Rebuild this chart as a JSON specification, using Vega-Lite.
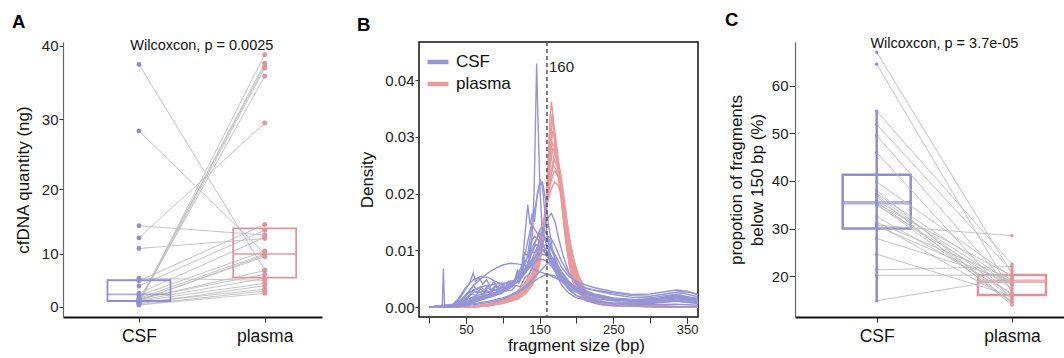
{
"$schema": "https://vega.github.io/schema/vega-lite/v6.json",
"padding": {"left": 12, "top": 11, "right": 0, "bottom": 0},
"background": "white",
"bounds": "flush",
"spacing": 97,
"config": {
  "font": "Liberation Sans",
  "view": {"stroke": null},
  "axis": {"grid": false, "labelFont": "Liberation Sans", "titleFont": "Liberation Sans", "labelColor": "#222", "titleColor": "#111", "titleFontWeight": "normal", "tickColor": "#333", "domainColor": "#333"}
},
"resolve": {"scale": {"color": "independent", "x": "independent", "y": "independent"}, "legend": {"color": "independent"}},
"datasets": {
  "pairsA": [
    {"id":1,"g":"CSF","v":37.5},{"id":1,"g":"plasma","v":7.3},
    {"id":2,"g":"CSF","v":28.4},{"id":2,"g":"plasma","v":10.1},
    {"id":3,"g":"CSF","v":14.5},{"id":3,"g":"plasma","v":13.05},
    {"id":4,"g":"CSF","v":12.6},{"id":4,"g":"plasma","v":29.5},
    {"id":5,"g":"CSF","v":10.9},{"id":5,"g":"plasma","v":12.5},
    {"id":6,"g":"CSF","v":1.0},{"id":6,"g":"plasma","v":38.8},
    {"id":7,"g":"CSF","v":1.2},{"id":7,"g":"plasma","v":37.65},
    {"id":8,"g":"CSF","v":1.5},{"id":8,"g":"plasma","v":37.3},
    {"id":9,"g":"CSF","v":0.93},{"id":9,"g":"plasma","v":37.0},
    {"id":10,"g":"CSF","v":1.3},{"id":10,"g":"plasma","v":35.9},
    {"id":11,"g":"CSF","v":5.85},{"id":11,"g":"plasma","v":5.5},
    {"id":12,"g":"CSF","v":5.4},{"id":12,"g":"plasma","v":14.7},
    {"id":13,"g":"CSF","v":4.45},{"id":13,"g":"plasma","v":13.8},
    {"id":14,"g":"CSF","v":3.05},{"id":14,"g":"plasma","v":12.7},
    {"id":15,"g":"CSF","v":2.57},{"id":15,"g":"plasma","v":10.5},
    {"id":16,"g":"CSF","v":2.03},{"id":16,"g":"plasma","v":10.0},
    {"id":17,"g":"CSF","v":1.52},{"id":17,"g":"plasma","v":9.8},
    {"id":18,"g":"CSF","v":1.7},{"id":18,"g":"plasma","v":9.55},
    {"id":19,"g":"CSF","v":1.8},{"id":19,"g":"plasma","v":7.2},
    {"id":20,"g":"CSF","v":2.0},{"id":20,"g":"plasma","v":6.56},
    {"id":21,"g":"CSF","v":1.6},{"id":21,"g":"plasma","v":5.85},
    {"id":22,"g":"CSF","v":1.4},{"id":22,"g":"plasma","v":4.95},
    {"id":23,"g":"CSF","v":0.8},{"id":23,"g":"plasma","v":4.5},
    {"id":24,"g":"CSF","v":1.1},{"id":24,"g":"plasma","v":3.83},
    {"id":25,"g":"CSF","v":0.6},{"id":25,"g":"plasma","v":3.5},
    {"id":26,"g":"CSF","v":0.51},{"id":26,"g":"plasma","v":3.05}
  ],
  "boxA": [
    {"g":"CSF","q1":1.45,"med":2.85,"q3":5.5},
    {"g":"plasma","q1":5.96,"med":10.0,"q3":14.1}
  ],
  "pairsC": [
    {"id":1,"g":"CSF","v":67.1},{"id":1,"g":"plasma","v":20.5},
    {"id":2,"g":"CSF","v":64.6},{"id":2,"g":"plasma","v":16.5},
    {"id":3,"g":"CSF","v":54.7},{"id":3,"g":"plasma","v":22.5},
    {"id":4,"g":"CSF","v":51.9},{"id":4,"g":"plasma","v":21.0},
    {"id":5,"g":"CSF","v":49.6},{"id":5,"g":"plasma","v":17.0},
    {"id":6,"g":"CSF","v":46.0},{"id":6,"g":"plasma","v":15.0},
    {"id":7,"g":"CSF","v":39.8},{"id":7,"g":"plasma","v":19.8},
    {"id":8,"g":"CSF","v":38.0},{"id":8,"g":"plasma","v":14.2},
    {"id":9,"g":"CSF","v":37.3},{"id":9,"g":"plasma","v":18.5},
    {"id":10,"g":"CSF","v":37.0},{"id":10,"g":"plasma","v":16.0},
    {"id":11,"g":"CSF","v":36.7},{"id":11,"g":"plasma","v":13.9},
    {"id":12,"g":"CSF","v":36.0},{"id":12,"g":"plasma","v":18.0},
    {"id":13,"g":"CSF","v":35.5},{"id":13,"g":"plasma","v":15.5},
    {"id":14,"g":"CSF","v":35.3},{"id":14,"g":"plasma","v":20.0},
    {"id":15,"g":"CSF","v":35.2},{"id":15,"g":"plasma","v":14.5},
    {"id":16,"g":"CSF","v":34.9},{"id":16,"g":"plasma","v":17.5},
    {"id":17,"g":"CSF","v":32.5},{"id":17,"g":"plasma","v":16.3},
    {"id":18,"g":"CSF","v":31.3},{"id":18,"g":"plasma","v":19.3},
    {"id":19,"g":"CSF","v":31.0},{"id":19,"g":"plasma","v":14.8},
    {"id":20,"g":"CSF","v":30.7},{"id":20,"g":"plasma","v":28.5},
    {"id":21,"g":"CSF","v":30.5},{"id":21,"g":"plasma","v":18.3},
    {"id":22,"g":"CSF","v":27.9},{"id":22,"g":"plasma","v":19.0},
    {"id":23,"g":"CSF","v":24.6},{"id":23,"g":"plasma","v":15.8},
    {"id":24,"g":"CSF","v":21.3},{"id":24,"g":"plasma","v":22.0},
    {"id":25,"g":"CSF","v":20.15},{"id":25,"g":"plasma","v":20.2},
    {"id":26,"g":"CSF","v":14.8},{"id":26,"g":"plasma","v":19.5}
  ],
  "boxC": [
    {"g":"CSF","lo":14.8,"q1":30.0,"med":35.4,"q3":41.3,"hi":54.7},
    {"g":"plasma","lo":13.9,"q1":16.0,"med":18.9,"q3":20.2,"hi":22.5}
  ],
  "csf": [
    {"s":"c1","t":"CSF","x":0,"y":0},{"s":"c1","t":"CSF","x":30,"y":0},{"s":"c1","t":"CSF","x":40,"y":0.0004},{"s":"c1","t":"CSF","x":50,"y":0.0012},{"s":"c1","t":"CSF","x":60,"y":0.0018},{"s":"c1","t":"CSF","x":70,"y":0.0022},{"s":"c1","t":"CSF","x":80,"y":0.0026},{"s":"c1","t":"CSF","x":90,"y":0.003},{"s":"c1","t":"CSF","x":100,"y":0.0034},{"s":"c1","t":"CSF","x":110,"y":0.004},{"s":"c1","t":"CSF","x":120,"y":0.0052},{"s":"c1","t":"CSF","x":130,"y":0.0075},{"s":"c1","t":"CSF","x":136,"y":0.0098},{"s":"c1","t":"CSF","x":140,"y":0.0125},{"s":"c1","t":"CSF","x":142.5,"y":0.02},{"s":"c1","t":"CSF","x":146,"y":0.0429},{"s":"c1","t":"CSF","x":148,"y":0.032},{"s":"c1","t":"CSF","x":150.5,"y":0.021},{"s":"c1","t":"CSF","x":153,"y":0.0145},{"s":"c1","t":"CSF","x":158,"y":0.0115},{"s":"c1","t":"CSF","x":165,"y":0.009},{"s":"c1","t":"CSF","x":175,"y":0.0065},{"s":"c1","t":"CSF","x":185,"y":0.0045},{"s":"c1","t":"CSF","x":200,"y":0.003},{"s":"c1","t":"CSF","x":225,"y":0.0018},{"s":"c1","t":"CSF","x":250,"y":0.0012},{"s":"c1","t":"CSF","x":280,"y":0.001},{"s":"c1","t":"CSF","x":310,"y":0.0012},{"s":"c1","t":"CSF","x":335,"y":0.0015},{"s":"c1","t":"CSF","x":365,"y":0.001},
    {"s":"c2","t":"CSF","x":0,"y":0},{"s":"c2","t":"CSF","x":18,"y":0},{"s":"c2","t":"CSF","x":19.5,"y":0.0068},{"s":"c2","t":"CSF","x":21,"y":0.0004},{"s":"c2","t":"CSF","x":24,"y":0},{"s":"c2","t":"CSF","x":30,"y":0.0001},{"s":"c2","t":"CSF","x":40,"y":0.0008},{"s":"c2","t":"CSF","x":50,"y":0.0022},{"s":"c2","t":"CSF","x":60,"y":0.0037},{"s":"c2","t":"CSF","x":70,"y":0.005},{"s":"c2","t":"CSF","x":80,"y":0.006},{"s":"c2","t":"CSF","x":90,"y":0.0068},{"s":"c2","t":"CSF","x":100,"y":0.0074},{"s":"c2","t":"CSF","x":110,"y":0.0077},{"s":"c2","t":"CSF","x":120,"y":0.0076},{"s":"c2","t":"CSF","x":130,"y":0.0073},{"s":"c2","t":"CSF","x":140,"y":0.0068},{"s":"c2","t":"CSF","x":150,"y":0.0062},{"s":"c2","t":"CSF","x":160,"y":0.0058},{"s":"c2","t":"CSF","x":170,"y":0.0052},{"s":"c2","t":"CSF","x":180,"y":0.0045},{"s":"c2","t":"CSF","x":190,"y":0.004},{"s":"c2","t":"CSF","x":200,"y":0.0036},{"s":"c2","t":"CSF","x":225,"y":0.003},{"s":"c2","t":"CSF","x":250,"y":0.0025},{"s":"c2","t":"CSF","x":275,"y":0.002},{"s":"c2","t":"CSF","x":300,"y":0.0019},{"s":"c2","t":"CSF","x":320,"y":0.0023},{"s":"c2","t":"CSF","x":340,"y":0.0027},{"s":"c2","t":"CSF","x":355,"y":0.0026},{"s":"c2","t":"CSF","x":365,"y":0.0022},
    {"s":"c3","t":"CSF","x":0,"y":0},{"s":"c3","t":"CSF","x":30,"y":0},{"s":"c3","t":"CSF","x":40,"y":0.0012},{"s":"c3","t":"CSF","x":50,"y":0.0032},{"s":"c3","t":"CSF","x":55,"y":0.0042},{"s":"c3","t":"CSF","x":60,"y":0.006},{"s":"c3","t":"CSF","x":63,"y":0.0045},{"s":"c3","t":"CSF","x":68,"y":0.0052},{"s":"c3","t":"CSF","x":73,"y":0.004},{"s":"c3","t":"CSF","x":78,"y":0.0048},{"s":"c3","t":"CSF","x":83,"y":0.0037},{"s":"c3","t":"CSF","x":88,"y":0.0044},{"s":"c3","t":"CSF","x":93,"y":0.0034},{"s":"c3","t":"CSF","x":98,"y":0.0042},{"s":"c3","t":"CSF","x":103,"y":0.0033},{"s":"c3","t":"CSF","x":108,"y":0.0045},{"s":"c3","t":"CSF","x":113,"y":0.0036},{"s":"c3","t":"CSF","x":118,"y":0.0055},{"s":"c3","t":"CSF","x":123,"y":0.0048},{"s":"c3","t":"CSF","x":128,"y":0.0078},{"s":"c3","t":"CSF","x":133,"y":0.0068},{"s":"c3","t":"CSF","x":138,"y":0.01},{"s":"c3","t":"CSF","x":143,"y":0.0095},{"s":"c3","t":"CSF","x":150,"y":0.0105},{"s":"c3","t":"CSF","x":158,"y":0.0095},{"s":"c3","t":"CSF","x":165,"y":0.008},{"s":"c3","t":"CSF","x":175,"y":0.006},{"s":"c3","t":"CSF","x":185,"y":0.0045},{"s":"c3","t":"CSF","x":200,"y":0.0032},{"s":"c3","t":"CSF","x":225,"y":0.0022},{"s":"c3","t":"CSF","x":250,"y":0.0015},{"s":"c3","t":"CSF","x":280,"y":0.0012},{"s":"c3","t":"CSF","x":310,"y":0.0014},{"s":"c3","t":"CSF","x":335,"y":0.002},{"s":"c3","t":"CSF","x":365,"y":0.0014},
    {"s":"c4","t":"CSF","x":0,"y":0},{"s":"c4","t":"CSF","x":30,"y":0.0002},{"s":"c4","t":"CSF","x":40,"y":0.0015},{"s":"c4","t":"CSF","x":50,"y":0.0035},{"s":"c4","t":"CSF","x":60,"y":0.0048},{"s":"c4","t":"CSF","x":70,"y":0.0054},{"s":"c4","t":"CSF","x":80,"y":0.0052},{"s":"c4","t":"CSF","x":90,"y":0.0045},{"s":"c4","t":"CSF","x":100,"y":0.004},{"s":"c4","t":"CSF","x":110,"y":0.0042},{"s":"c4","t":"CSF","x":120,"y":0.005},{"s":"c4","t":"CSF","x":130,"y":0.0065},{"s":"c4","t":"CSF","x":140,"y":0.0085},{"s":"c4","t":"CSF","x":150,"y":0.0095},{"s":"c4","t":"CSF","x":160,"y":0.009},{"s":"c4","t":"CSF","x":170,"y":0.0075},{"s":"c4","t":"CSF","x":180,"y":0.0055},{"s":"c4","t":"CSF","x":190,"y":0.004},{"s":"c4","t":"CSF","x":200,"y":0.003},{"s":"c4","t":"CSF","x":225,"y":0.002},{"s":"c4","t":"CSF","x":250,"y":0.0013},{"s":"c4","t":"CSF","x":280,"y":0.001},{"s":"c4","t":"CSF","x":310,"y":0.0012},{"s":"c4","t":"CSF","x":335,"y":0.0016},{"s":"c4","t":"CSF","x":365,"y":0.0012},
    {"s":"c5","t":"CSF","x":0,"y":0},{"s":"c5","t":"CSF","x":40,"y":0.0002},{"s":"c5","t":"CSF","x":50,"y":0.0006},{"s":"c5","t":"CSF","x":60,"y":0.001},{"s":"c5","t":"CSF","x":70,"y":0.0014},{"s":"c5","t":"CSF","x":80,"y":0.0018},{"s":"c5","t":"CSF","x":90,"y":0.0024},{"s":"c5","t":"CSF","x":100,"y":0.003},{"s":"c5","t":"CSF","x":105,"y":0.0028},{"s":"c5","t":"CSF","x":110,"y":0.0042},{"s":"c5","t":"CSF","x":115,"y":0.0038},{"s":"c5","t":"CSF","x":120,"y":0.0065},{"s":"c5","t":"CSF","x":125,"y":0.0058},{"s":"c5","t":"CSF","x":130,"y":0.0125},{"s":"c5","t":"CSF","x":134,"y":0.018},{"s":"c5","t":"CSF","x":137,"y":0.0145},{"s":"c5","t":"CSF","x":140,"y":0.0165},{"s":"c5","t":"CSF","x":143,"y":0.015},{"s":"c5","t":"CSF","x":147,"y":0.02},{"s":"c5","t":"CSF","x":151,"y":0.0225},{"s":"c5","t":"CSF","x":154,"y":0.021},{"s":"c5","t":"CSF","x":157,"y":0.017},{"s":"c5","t":"CSF","x":160,"y":0.013},{"s":"c5","t":"CSF","x":165,"y":0.009},{"s":"c5","t":"CSF","x":170,"y":0.0065},{"s":"c5","t":"CSF","x":180,"y":0.0038},{"s":"c5","t":"CSF","x":190,"y":0.0024},{"s":"c5","t":"CSF","x":200,"y":0.0016},{"s":"c5","t":"CSF","x":225,"y":0.0009},{"s":"c5","t":"CSF","x":250,"y":0.0006},{"s":"c5","t":"CSF","x":300,"y":0.0006},{"s":"c5","t":"CSF","x":335,"y":0.001},{"s":"c5","t":"CSF","x":365,"y":0.0006},
    {"s":"c6","t":"CSF","x":0,"y":0},{"s":"c6","t":"CSF","x":40,"y":0.0001},{"s":"c6","t":"CSF","x":50,"y":0.0004},{"s":"c6","t":"CSF","x":60,"y":0.0008},{"s":"c6","t":"CSF","x":70,"y":0.0012},{"s":"c6","t":"CSF","x":80,"y":0.0016},{"s":"c6","t":"CSF","x":90,"y":0.002},{"s":"c6","t":"CSF","x":100,"y":0.0026},{"s":"c6","t":"CSF","x":110,"y":0.0036},{"s":"c6","t":"CSF","x":120,"y":0.0055},{"s":"c6","t":"CSF","x":128,"y":0.008},{"s":"c6","t":"CSF","x":133,"y":0.011},{"s":"c6","t":"CSF","x":138,"y":0.014},{"s":"c6","t":"CSF","x":142,"y":0.016},{"s":"c6","t":"CSF","x":146,"y":0.019},{"s":"c6","t":"CSF","x":150,"y":0.0215},{"s":"c6","t":"CSF","x":154,"y":0.022},{"s":"c6","t":"CSF","x":158,"y":0.019},{"s":"c6","t":"CSF","x":162,"y":0.0145},{"s":"c6","t":"CSF","x":167,"y":0.0105},{"s":"c6","t":"CSF","x":172,"y":0.0075},{"s":"c6","t":"CSF","x":180,"y":0.0048},{"s":"c6","t":"CSF","x":190,"y":0.003},{"s":"c6","t":"CSF","x":200,"y":0.002},{"s":"c6","t":"CSF","x":225,"y":0.0011},{"s":"c6","t":"CSF","x":250,"y":0.0007},{"s":"c6","t":"CSF","x":300,"y":0.0007},{"s":"c6","t":"CSF","x":335,"y":0.0011},{"s":"c6","t":"CSF","x":365,"y":0.0007},
    {"s":"c7","t":"CSF","x":0,"y":0},{"s":"c7","t":"CSF","x":40,"y":0.0003},{"s":"c7","t":"CSF","x":50,"y":0.0008},{"s":"c7","t":"CSF","x":60,"y":0.0012},{"s":"c7","t":"CSF","x":70,"y":0.0016},{"s":"c7","t":"CSF","x":80,"y":0.002},{"s":"c7","t":"CSF","x":90,"y":0.0025},{"s":"c7","t":"CSF","x":100,"y":0.003},{"s":"c7","t":"CSF","x":110,"y":0.0036},{"s":"c7","t":"CSF","x":120,"y":0.0045},{"s":"c7","t":"CSF","x":130,"y":0.006},{"s":"c7","t":"CSF","x":140,"y":0.0085},{"s":"c7","t":"CSF","x":148,"y":0.011},{"s":"c7","t":"CSF","x":155,"y":0.0135},{"s":"c7","t":"CSF","x":160,"y":0.0155},{"s":"c7","t":"CSF","x":166,"y":0.0165},{"s":"c7","t":"CSF","x":171,"y":0.015},{"s":"c7","t":"CSF","x":176,"y":0.012},{"s":"c7","t":"CSF","x":182,"y":0.009},{"s":"c7","t":"CSF","x":190,"y":0.006},{"s":"c7","t":"CSF","x":200,"y":0.004},{"s":"c7","t":"CSF","x":210,"y":0.003},{"s":"c7","t":"CSF","x":225,"y":0.002},{"s":"c7","t":"CSF","x":250,"y":0.0013},{"s":"c7","t":"CSF","x":280,"y":0.001},{"s":"c7","t":"CSF","x":310,"y":0.0011},{"s":"c7","t":"CSF","x":335,"y":0.0015},{"s":"c7","t":"CSF","x":365,"y":0.001},
    {"s":"c8","t":"CSF","x":0,"y":0},{"s":"c8","t":"CSF","x":40,"y":0.0005},{"s":"c8","t":"CSF","x":50,"y":0.0016},{"s":"c8","t":"CSF","x":55,"y":0.0022},{"s":"c8","t":"CSF","x":60,"y":0.003},{"s":"c8","t":"CSF","x":65,"y":0.0025},{"s":"c8","t":"CSF","x":70,"y":0.0032},{"s":"c8","t":"CSF","x":75,"y":0.0026},{"s":"c8","t":"CSF","x":80,"y":0.0034},{"s":"c8","t":"CSF","x":85,"y":0.0028},{"s":"c8","t":"CSF","x":90,"y":0.0036},{"s":"c8","t":"CSF","x":95,"y":0.003},{"s":"c8","t":"CSF","x":100,"y":0.0038},{"s":"c8","t":"CSF","x":105,"y":0.0033},{"s":"c8","t":"CSF","x":110,"y":0.0044},{"s":"c8","t":"CSF","x":115,"y":0.004},{"s":"c8","t":"CSF","x":120,"y":0.0058},{"s":"c8","t":"CSF","x":125,"y":0.0052},{"s":"c8","t":"CSF","x":130,"y":0.0082},{"s":"c8","t":"CSF","x":135,"y":0.0078},{"s":"c8","t":"CSF","x":140,"y":0.0105},{"s":"c8","t":"CSF","x":145,"y":0.0118},{"s":"c8","t":"CSF","x":150,"y":0.013},{"s":"c8","t":"CSF","x":155,"y":0.0125},{"s":"c8","t":"CSF","x":160,"y":0.0118},{"s":"c8","t":"CSF","x":168,"y":0.0095},{"s":"c8","t":"CSF","x":175,"y":0.0072},{"s":"c8","t":"CSF","x":185,"y":0.005},{"s":"c8","t":"CSF","x":200,"y":0.0033},{"s":"c8","t":"CSF","x":225,"y":0.0023},{"s":"c8","t":"CSF","x":250,"y":0.0016},{"s":"c8","t":"CSF","x":280,"y":0.0013},{"s":"c8","t":"CSF","x":310,"y":0.0015},{"s":"c8","t":"CSF","x":335,"y":0.0022},{"s":"c8","t":"CSF","x":365,"y":0.0015},
    {"s":"c9","t":"CSF","x":0,"y":0},{"s":"c9","t":"CSF","x":40,"y":0.0002},{"s":"c9","t":"CSF","x":50,"y":0.0008},{"s":"c9","t":"CSF","x":60,"y":0.0013},{"s":"c9","t":"CSF","x":70,"y":0.0017},{"s":"c9","t":"CSF","x":80,"y":0.0021},{"s":"c9","t":"CSF","x":90,"y":0.0025},{"s":"c9","t":"CSF","x":100,"y":0.003},{"s":"c9","t":"CSF","x":110,"y":0.0036},{"s":"c9","t":"CSF","x":120,"y":0.0046},{"s":"c9","t":"CSF","x":130,"y":0.0062},{"s":"c9","t":"CSF","x":140,"y":0.0082},{"s":"c9","t":"CSF","x":150,"y":0.0102},{"s":"c9","t":"CSF","x":158,"y":0.011},{"s":"c9","t":"CSF","x":165,"y":0.0105},{"s":"c9","t":"CSF","x":172,"y":0.009},{"s":"c9","t":"CSF","x":180,"y":0.007},{"s":"c9","t":"CSF","x":190,"y":0.0054},{"s":"c9","t":"CSF","x":200,"y":0.0045},{"s":"c9","t":"CSF","x":210,"y":0.004},{"s":"c9","t":"CSF","x":225,"y":0.0034},{"s":"c9","t":"CSF","x":250,"y":0.0027},{"s":"c9","t":"CSF","x":275,"y":0.0022},{"s":"c9","t":"CSF","x":300,"y":0.0023},{"s":"c9","t":"CSF","x":320,"y":0.0027},{"s":"c9","t":"CSF","x":336,"y":0.003},{"s":"c9","t":"CSF","x":350,"y":0.0028},{"s":"c9","t":"CSF","x":365,"y":0.0021},
    {"s":"c10","t":"CSF","x":0,"y":0},{"s":"c10","t":"CSF","x":40,"y":0.0001},{"s":"c10","t":"CSF","x":60,"y":0.0004},{"s":"c10","t":"CSF","x":80,"y":0.0008},{"s":"c10","t":"CSF","x":100,"y":0.0014},{"s":"c10","t":"CSF","x":120,"y":0.0025},{"s":"c10","t":"CSF","x":135,"y":0.0038},{"s":"c10","t":"CSF","x":150,"y":0.0052},{"s":"c10","t":"CSF","x":160,"y":0.0058},{"s":"c10","t":"CSF","x":170,"y":0.0055},{"s":"c10","t":"CSF","x":180,"y":0.0045},{"s":"c10","t":"CSF","x":190,"y":0.0032},{"s":"c10","t":"CSF","x":200,"y":0.002},{"s":"c10","t":"CSF","x":215,"y":0.001},{"s":"c10","t":"CSF","x":235,"y":0.0004},{"s":"c10","t":"CSF","x":260,"y":0.0002},{"s":"c10","t":"CSF","x":300,"y":0.0001},{"s":"c10","t":"CSF","x":365,"y":0.0001},
    {"s":"c11","t":"CSF","x":0,"y":0},{"s":"c11","t":"CSF","x":40,"y":0.0002},{"s":"c11","t":"CSF","x":60,"y":0.0006},{"s":"c11","t":"CSF","x":80,"y":0.001},{"s":"c11","t":"CSF","x":100,"y":0.0016},{"s":"c11","t":"CSF","x":120,"y":0.0026},{"s":"c11","t":"CSF","x":135,"y":0.0042},{"s":"c11","t":"CSF","x":150,"y":0.0062},{"s":"c11","t":"CSF","x":160,"y":0.0076},{"s":"c11","t":"CSF","x":166,"y":0.008},{"s":"c11","t":"CSF","x":172,"y":0.0075},{"s":"c11","t":"CSF","x":180,"y":0.0062},{"s":"c11","t":"CSF","x":190,"y":0.0045},{"s":"c11","t":"CSF","x":200,"y":0.003},{"s":"c11","t":"CSF","x":215,"y":0.0016},{"s":"c11","t":"CSF","x":235,"y":0.0008},{"s":"c11","t":"CSF","x":260,"y":0.0005},{"s":"c11","t":"CSF","x":300,"y":0.0004},{"s":"c11","t":"CSF","x":335,"y":0.0005},{"s":"c11","t":"CSF","x":365,"y":0.0003},
    {"s":"c12","t":"CSF","x":0,"y":0},{"s":"c12","t":"CSF","x":40,"y":0.0006},{"s":"c12","t":"CSF","x":50,"y":0.002},{"s":"c12","t":"CSF","x":55,"y":0.0028},{"s":"c12","t":"CSF","x":60,"y":0.0038},{"s":"c12","t":"CSF","x":65,"y":0.003},{"s":"c12","t":"CSF","x":70,"y":0.0036},{"s":"c12","t":"CSF","x":75,"y":0.003},{"s":"c12","t":"CSF","x":80,"y":0.0038},{"s":"c12","t":"CSF","x":85,"y":0.0031},{"s":"c12","t":"CSF","x":90,"y":0.0038},{"s":"c12","t":"CSF","x":95,"y":0.0032},{"s":"c12","t":"CSF","x":100,"y":0.004},{"s":"c12","t":"CSF","x":105,"y":0.0034},{"s":"c12","t":"CSF","x":110,"y":0.0046},{"s":"c12","t":"CSF","x":115,"y":0.004},{"s":"c12","t":"CSF","x":120,"y":0.0062},{"s":"c12","t":"CSF","x":125,"y":0.0058},{"s":"c12","t":"CSF","x":130,"y":0.0095},{"s":"c12","t":"CSF","x":135,"y":0.0088},{"s":"c12","t":"CSF","x":140,"y":0.0118},{"s":"c12","t":"CSF","x":143,"y":0.0125},{"s":"c12","t":"CSF","x":147,"y":0.012},{"s":"c12","t":"CSF","x":152,"y":0.0112},{"s":"c12","t":"CSF","x":160,"y":0.0098},{"s":"c12","t":"CSF","x":170,"y":0.0075},{"s":"c12","t":"CSF","x":180,"y":0.0052},{"s":"c12","t":"CSF","x":190,"y":0.0038},{"s":"c12","t":"CSF","x":200,"y":0.0029},{"s":"c12","t":"CSF","x":225,"y":0.002},{"s":"c12","t":"CSF","x":250,"y":0.0014},{"s":"c12","t":"CSF","x":280,"y":0.0012},{"s":"c12","t":"CSF","x":310,"y":0.0014},{"s":"c12","t":"CSF","x":335,"y":0.0019},{"s":"c12","t":"CSF","x":365,"y":0.0013},
    {"s":"c13","t":"CSF","x":0,"y":0},{"s":"c13","t":"CSF","x":35,"y":0.0001},{"s":"c13","t":"CSF","x":45,"y":0.0006},{"s":"c13","t":"CSF","x":55,"y":0.0012},{"s":"c13","t":"CSF","x":62,"y":0.0018},{"s":"c13","t":"CSF","x":68,"y":0.0016},{"s":"c13","t":"CSF","x":75,"y":0.0021},{"s":"c13","t":"CSF","x":82,"y":0.0019},{"s":"c13","t":"CSF","x":90,"y":0.0025},{"s":"c13","t":"CSF","x":97,"y":0.0023},{"s":"c13","t":"CSF","x":105,"y":0.003},{"s":"c13","t":"CSF","x":112,"y":0.0029},{"s":"c13","t":"CSF","x":118,"y":0.0038},{"s":"c13","t":"CSF","x":124,"y":0.0036},{"s":"c13","t":"CSF","x":130,"y":0.0052},{"s":"c13","t":"CSF","x":136,"y":0.0058},{"s":"c13","t":"CSF","x":142,"y":0.0075},{"s":"c13","t":"CSF","x":148,"y":0.009},{"s":"c13","t":"CSF","x":155,"y":0.0101},{"s":"c13","t":"CSF","x":162,"y":0.0097},{"s":"c13","t":"CSF","x":170,"y":0.0082},{"s":"c13","t":"CSF","x":178,"y":0.0062},{"s":"c13","t":"CSF","x":188,"y":0.0044},{"s":"c13","t":"CSF","x":200,"y":0.003},{"s":"c13","t":"CSF","x":225,"y":0.0019},{"s":"c13","t":"CSF","x":250,"y":0.0013},{"s":"c13","t":"CSF","x":280,"y":0.001},{"s":"c13","t":"CSF","x":310,"y":0.0011},{"s":"c13","t":"CSF","x":340,"y":0.0016},{"s":"c13","t":"CSF","x":365,"y":0.0011},
    {"s":"c14","t":"CSF","x":0,"y":0},{"s":"c14","t":"CSF","x":35,"y":0.0002},{"s":"c14","t":"CSF","x":45,"y":0.001},{"s":"c14","t":"CSF","x":55,"y":0.002},{"s":"c14","t":"CSF","x":62,"y":0.0028},{"s":"c14","t":"CSF","x":68,"y":0.0025},{"s":"c14","t":"CSF","x":75,"y":0.0029},{"s":"c14","t":"CSF","x":82,"y":0.0027},{"s":"c14","t":"CSF","x":90,"y":0.0031},{"s":"c14","t":"CSF","x":97,"y":0.0029},{"s":"c14","t":"CSF","x":105,"y":0.0034},{"s":"c14","t":"CSF","x":112,"y":0.0035},{"s":"c14","t":"CSF","x":118,"y":0.0045},{"s":"c14","t":"CSF","x":124,"y":0.0047},{"s":"c14","t":"CSF","x":130,"y":0.0068},{"s":"c14","t":"CSF","x":136,"y":0.0082},{"s":"c14","t":"CSF","x":142,"y":0.0105},{"s":"c14","t":"CSF","x":148,"y":0.0128},{"s":"c14","t":"CSF","x":152,"y":0.014},{"s":"c14","t":"CSF","x":157,"y":0.0135},{"s":"c14","t":"CSF","x":163,"y":0.0118},{"s":"c14","t":"CSF","x":170,"y":0.009},{"s":"c14","t":"CSF","x":178,"y":0.0064},{"s":"c14","t":"CSF","x":188,"y":0.0043},{"s":"c14","t":"CSF","x":200,"y":0.0029},{"s":"c14","t":"CSF","x":225,"y":0.0019},{"s":"c14","t":"CSF","x":250,"y":0.0014},{"s":"c14","t":"CSF","x":280,"y":0.0011},{"s":"c14","t":"CSF","x":310,"y":0.0013},{"s":"c14","t":"CSF","x":338,"y":0.0019},{"s":"c14","t":"CSF","x":365,"y":0.0012},
    {"s":"c15","t":"CSF","x":0,"y":0},{"s":"c15","t":"CSF","x":40,"y":0.0003},{"s":"c15","t":"CSF","x":50,"y":0.0009},{"s":"c15","t":"CSF","x":60,"y":0.0015},{"s":"c15","t":"CSF","x":70,"y":0.0019},{"s":"c15","t":"CSF","x":80,"y":0.0022},{"s":"c15","t":"CSF","x":90,"y":0.0026},{"s":"c15","t":"CSF","x":100,"y":0.003},{"s":"c15","t":"CSF","x":110,"y":0.0035},{"s":"c15","t":"CSF","x":120,"y":0.0044},{"s":"c15","t":"CSF","x":130,"y":0.0058},{"s":"c15","t":"CSF","x":140,"y":0.0078},{"s":"c15","t":"CSF","x":150,"y":0.0102},{"s":"c15","t":"CSF","x":156,"y":0.0118},{"s":"c15","t":"CSF","x":160,"y":0.0125},{"s":"c15","t":"CSF","x":165,"y":0.0122},{"s":"c15","t":"CSF","x":172,"y":0.0105},{"s":"c15","t":"CSF","x":180,"y":0.008},{"s":"c15","t":"CSF","x":190,"y":0.0058},{"s":"c15","t":"CSF","x":200,"y":0.0042},{"s":"c15","t":"CSF","x":210,"y":0.0035},{"s":"c15","t":"CSF","x":225,"y":0.0029},{"s":"c15","t":"CSF","x":250,"y":0.0022},{"s":"c15","t":"CSF","x":275,"y":0.0017},{"s":"c15","t":"CSF","x":300,"y":0.0016},{"s":"c15","t":"CSF","x":325,"y":0.0021},{"s":"c15","t":"CSF","x":345,"y":0.0024},{"s":"c15","t":"CSF","x":365,"y":0.0018},
    {"s":"c16","t":"CSF","x":0,"y":0},{"s":"c16","t":"CSF","x":40,"y":0.0004},{"s":"c16","t":"CSF","x":50,"y":0.0013},{"s":"c16","t":"CSF","x":58,"y":0.0024},{"s":"c16","t":"CSF","x":63,"y":0.002},{"s":"c16","t":"CSF","x":68,"y":0.0027},{"s":"c16","t":"CSF","x":73,"y":0.0022},{"s":"c16","t":"CSF","x":78,"y":0.003},{"s":"c16","t":"CSF","x":83,"y":0.0024},{"s":"c16","t":"CSF","x":88,"y":0.0033},{"s":"c16","t":"CSF","x":93,"y":0.0027},{"s":"c16","t":"CSF","x":98,"y":0.0036},{"s":"c16","t":"CSF","x":103,"y":0.0031},{"s":"c16","t":"CSF","x":108,"y":0.0041},{"s":"c16","t":"CSF","x":113,"y":0.0037},{"s":"c16","t":"CSF","x":118,"y":0.0052},{"s":"c16","t":"CSF","x":123,"y":0.0049},{"s":"c16","t":"CSF","x":128,"y":0.0075},{"s":"c16","t":"CSF","x":133,"y":0.0085},{"s":"c16","t":"CSF","x":137,"y":0.012},{"s":"c16","t":"CSF","x":140,"y":0.0145},{"s":"c16","t":"CSF","x":144,"y":0.0135},{"s":"c16","t":"CSF","x":148,"y":0.0128},{"s":"c16","t":"CSF","x":153,"y":0.0115},{"s":"c16","t":"CSF","x":160,"y":0.0095},{"s":"c16","t":"CSF","x":168,"y":0.0072},{"s":"c16","t":"CSF","x":176,"y":0.0052},{"s":"c16","t":"CSF","x":186,"y":0.0037},{"s":"c16","t":"CSF","x":200,"y":0.0027},{"s":"c16","t":"CSF","x":225,"y":0.0019},{"s":"c16","t":"CSF","x":250,"y":0.0013},{"s":"c16","t":"CSF","x":280,"y":0.001},{"s":"c16","t":"CSF","x":310,"y":0.0012},{"s":"c16","t":"CSF","x":340,"y":0.0017},{"s":"c16","t":"CSF","x":365,"y":0.0011},
    {"s":"c17","t":"CSF","x":0,"y":0},{"s":"c17","t":"CSF","x":35,"y":0.0003},{"s":"c17","t":"CSF","x":45,"y":0.0014},{"s":"c17","t":"CSF","x":55,"y":0.0026},{"s":"c17","t":"CSF","x":65,"y":0.0033},{"s":"c17","t":"CSF","x":75,"y":0.0037},{"s":"c17","t":"CSF","x":85,"y":0.0039},{"s":"c17","t":"CSF","x":95,"y":0.0041},{"s":"c17","t":"CSF","x":105,"y":0.0043},{"s":"c17","t":"CSF","x":115,"y":0.0047},{"s":"c17","t":"CSF","x":125,"y":0.0055},{"s":"c17","t":"CSF","x":135,"y":0.0068},{"s":"c17","t":"CSF","x":145,"y":0.0081},{"s":"c17","t":"CSF","x":150,"y":0.0085},{"s":"c17","t":"CSF","x":158,"y":0.0082},{"s":"c17","t":"CSF","x":166,"y":0.0072},{"s":"c17","t":"CSF","x":175,"y":0.0057},{"s":"c17","t":"CSF","x":185,"y":0.0043},{"s":"c17","t":"CSF","x":200,"y":0.003},{"s":"c17","t":"CSF","x":225,"y":0.002},{"s":"c17","t":"CSF","x":250,"y":0.0015},{"s":"c17","t":"CSF","x":280,"y":0.0012},{"s":"c17","t":"CSF","x":310,"y":0.0013},{"s":"c17","t":"CSF","x":335,"y":0.0018},{"s":"c17","t":"CSF","x":365,"y":0.0012},
    {"s":"c18","t":"CSF","x":0,"y":0},{"s":"c18","t":"CSF","x":40,"y":0.0002},{"s":"c18","t":"CSF","x":50,"y":0.0007},{"s":"c18","t":"CSF","x":60,"y":0.0011},{"s":"c18","t":"CSF","x":70,"y":0.0014},{"s":"c18","t":"CSF","x":80,"y":0.0018},{"s":"c18","t":"CSF","x":90,"y":0.0022},{"s":"c18","t":"CSF","x":100,"y":0.0027},{"s":"c18","t":"CSF","x":110,"y":0.0033},{"s":"c18","t":"CSF","x":118,"y":0.0045},{"s":"c18","t":"CSF","x":122,"y":0.0042},{"s":"c18","t":"CSF","x":128,"y":0.0064},{"s":"c18","t":"CSF","x":133,"y":0.0072},{"s":"c18","t":"CSF","x":138,"y":0.0092},{"s":"c18","t":"CSF","x":145,"y":0.011},{"s":"c18","t":"CSF","x":150,"y":0.0106},{"s":"c18","t":"CSF","x":156,"y":0.0098},{"s":"c18","t":"CSF","x":163,"y":0.0083},{"s":"c18","t":"CSF","x":172,"y":0.0062},{"s":"c18","t":"CSF","x":182,"y":0.0043},{"s":"c18","t":"CSF","x":195,"y":0.0029},{"s":"c18","t":"CSF","x":210,"y":0.002},{"s":"c18","t":"CSF","x":230,"y":0.0014},{"s":"c18","t":"CSF","x":260,"y":0.0009},{"s":"c18","t":"CSF","x":300,"y":0.0008},{"s":"c18","t":"CSF","x":335,"y":0.0012},{"s":"c18","t":"CSF","x":365,"y":0.0008}
  ],
  "plasma": [
    {"s":"p1","t":"plasma","x":0,"y":0},{"s":"p1","t":"plasma","x":60,"y":0},{"s":"p1","t":"plasma","x":80,"y":0.0002},{"s":"p1","t":"plasma","x":100,"y":0.0006},{"s":"p1","t":"plasma","x":120,"y":0.0014},{"s":"p1","t":"plasma","x":130,"y":0.0022},{"s":"p1","t":"plasma","x":140,"y":0.0038},{"s":"p1","t":"plasma","x":145,"y":0.0052},{"s":"p1","t":"plasma","x":150,"y":0.0075},{"s":"p1","t":"plasma","x":155,"y":0.0115},{"s":"p1","t":"plasma","x":158,"y":0.016},{"s":"p1","t":"plasma","x":161,"y":0.024},{"s":"p1","t":"plasma","x":164,"y":0.033},{"s":"p1","t":"plasma","x":166,"y":0.0362},{"s":"p1","t":"plasma","x":168,"y":0.034},{"s":"p1","t":"plasma","x":171,"y":0.0285},{"s":"p1","t":"plasma","x":175,"y":0.024},{"s":"p1","t":"plasma","x":180,"y":0.018},{"s":"p1","t":"plasma","x":185,"y":0.012},{"s":"p1","t":"plasma","x":190,"y":0.0075},{"s":"p1","t":"plasma","x":195,"y":0.0045},{"s":"p1","t":"plasma","x":200,"y":0.003},{"s":"p1","t":"plasma","x":210,"y":0.0015},{"s":"p1","t":"plasma","x":225,"y":0.0007},{"s":"p1","t":"plasma","x":250,"y":0.0002},{"s":"p1","t":"plasma","x":300,"y":0.0001},{"s":"p1","t":"plasma","x":365,"y":0},
    {"s":"p2","t":"plasma","x":0,"y":0},{"s":"p2","t":"plasma","x":60,"y":0},{"s":"p2","t":"plasma","x":80,"y":0.0002},{"s":"p2","t":"plasma","x":100,"y":0.0007},{"s":"p2","t":"plasma","x":120,"y":0.0016},{"s":"p2","t":"plasma","x":130,"y":0.0025},{"s":"p2","t":"plasma","x":140,"y":0.0042},{"s":"p2","t":"plasma","x":145,"y":0.0058},{"s":"p2","t":"plasma","x":150,"y":0.0082},{"s":"p2","t":"plasma","x":155,"y":0.012},{"s":"p2","t":"plasma","x":159,"y":0.0175},{"s":"p2","t":"plasma","x":162,"y":0.025},{"s":"p2","t":"plasma","x":165,"y":0.031},{"s":"p2","t":"plasma","x":167,"y":0.034},{"s":"p2","t":"plasma","x":170,"y":0.031},{"s":"p2","t":"plasma","x":173,"y":0.027},{"s":"p2","t":"plasma","x":177,"y":0.0225},{"s":"p2","t":"plasma","x":182,"y":0.016},{"s":"p2","t":"plasma","x":187,"y":0.0105},{"s":"p2","t":"plasma","x":192,"y":0.0068},{"s":"p2","t":"plasma","x":198,"y":0.0042},{"s":"p2","t":"plasma","x":205,"y":0.0025},{"s":"p2","t":"plasma","x":215,"y":0.0012},{"s":"p2","t":"plasma","x":230,"y":0.0005},{"s":"p2","t":"plasma","x":260,"y":0.0002},{"s":"p2","t":"plasma","x":365,"y":0},
    {"s":"p3","t":"plasma","x":0,"y":0},{"s":"p3","t":"plasma","x":60,"y":0},{"s":"p3","t":"plasma","x":80,"y":0.0003},{"s":"p3","t":"plasma","x":100,"y":0.0008},{"s":"p3","t":"plasma","x":120,"y":0.0018},{"s":"p3","t":"plasma","x":130,"y":0.0028},{"s":"p3","t":"plasma","x":140,"y":0.0046},{"s":"p3","t":"plasma","x":145,"y":0.0062},{"s":"p3","t":"plasma","x":150,"y":0.0088},{"s":"p3","t":"plasma","x":155,"y":0.0128},{"s":"p3","t":"plasma","x":159,"y":0.018},{"s":"p3","t":"plasma","x":163,"y":0.025},{"s":"p3","t":"plasma","x":166,"y":0.029},{"s":"p3","t":"plasma","x":168,"y":0.031},{"s":"p3","t":"plasma","x":171,"y":0.029},{"s":"p3","t":"plasma","x":175,"y":0.0255},{"s":"p3","t":"plasma","x":180,"y":0.02},{"s":"p3","t":"plasma","x":185,"y":0.0138},{"s":"p3","t":"plasma","x":190,"y":0.009},{"s":"p3","t":"plasma","x":196,"y":0.0055},{"s":"p3","t":"plasma","x":203,"y":0.0032},{"s":"p3","t":"plasma","x":212,"y":0.0016},{"s":"p3","t":"plasma","x":228,"y":0.0007},{"s":"p3","t":"plasma","x":255,"y":0.0002},{"s":"p3","t":"plasma","x":365,"y":0},
    {"s":"p4","t":"plasma","x":0,"y":0},{"s":"p4","t":"plasma","x":60,"y":0.0001},{"s":"p4","t":"plasma","x":80,"y":0.0003},{"s":"p4","t":"plasma","x":100,"y":0.0009},{"s":"p4","t":"plasma","x":120,"y":0.002},{"s":"p4","t":"plasma","x":130,"y":0.003},{"s":"p4","t":"plasma","x":140,"y":0.005},{"s":"p4","t":"plasma","x":145,"y":0.0068},{"s":"p4","t":"plasma","x":150,"y":0.0095},{"s":"p4","t":"plasma","x":155,"y":0.0135},{"s":"p4","t":"plasma","x":160,"y":0.019},{"s":"p4","t":"plasma","x":164,"y":0.0245},{"s":"p4","t":"plasma","x":168,"y":0.028},{"s":"p4","t":"plasma","x":172,"y":0.0265},{"s":"p4","t":"plasma","x":176,"y":0.0235},{"s":"p4","t":"plasma","x":181,"y":0.019},{"s":"p4","t":"plasma","x":186,"y":0.0135},{"s":"p4","t":"plasma","x":191,"y":0.009},{"s":"p4","t":"plasma","x":197,"y":0.0058},{"s":"p4","t":"plasma","x":204,"y":0.0035},{"s":"p4","t":"plasma","x":213,"y":0.0018},{"s":"p4","t":"plasma","x":230,"y":0.0007},{"s":"p4","t":"plasma","x":255,"y":0.0002},{"s":"p4","t":"plasma","x":365,"y":0},
    {"s":"p5","t":"plasma","x":0,"y":0},{"s":"p5","t":"plasma","x":60,"y":0.0001},{"s":"p5","t":"plasma","x":80,"y":0.0004},{"s":"p5","t":"plasma","x":100,"y":0.001},{"s":"p5","t":"plasma","x":120,"y":0.0022},{"s":"p5","t":"plasma","x":130,"y":0.0034},{"s":"p5","t":"plasma","x":140,"y":0.0055},{"s":"p5","t":"plasma","x":145,"y":0.0074},{"s":"p5","t":"plasma","x":150,"y":0.0102},{"s":"p5","t":"plasma","x":155,"y":0.014},{"s":"p5","t":"plasma","x":160,"y":0.0185},{"s":"p5","t":"plasma","x":165,"y":0.023},{"s":"p5","t":"plasma","x":170,"y":0.026},{"s":"p5","t":"plasma","x":174,"y":0.0248},{"s":"p5","t":"plasma","x":178,"y":0.0228},{"s":"p5","t":"plasma","x":183,"y":0.0185},{"s":"p5","t":"plasma","x":188,"y":0.0135},{"s":"p5","t":"plasma","x":193,"y":0.0092},{"s":"p5","t":"plasma","x":199,"y":0.006},{"s":"p5","t":"plasma","x":206,"y":0.0036},{"s":"p5","t":"plasma","x":215,"y":0.0019},{"s":"p5","t":"plasma","x":232,"y":0.0008},{"s":"p5","t":"plasma","x":260,"y":0.0002},{"s":"p5","t":"plasma","x":365,"y":0},
    {"s":"p6","t":"plasma","x":0,"y":0},{"s":"p6","t":"plasma","x":60,"y":0.0001},{"s":"p6","t":"plasma","x":80,"y":0.0004},{"s":"p6","t":"plasma","x":100,"y":0.0011},{"s":"p6","t":"plasma","x":120,"y":0.0025},{"s":"p6","t":"plasma","x":130,"y":0.0038},{"s":"p6","t":"plasma","x":140,"y":0.006},{"s":"p6","t":"plasma","x":145,"y":0.008},{"s":"p6","t":"plasma","x":150,"y":0.011},{"s":"p6","t":"plasma","x":155,"y":0.0145},{"s":"p6","t":"plasma","x":160,"y":0.0185},{"s":"p6","t":"plasma","x":165,"y":0.022},{"s":"p6","t":"plasma","x":170,"y":0.024},{"s":"p6","t":"plasma","x":175,"y":0.0232},{"s":"p6","t":"plasma","x":180,"y":0.021},{"s":"p6","t":"plasma","x":185,"y":0.017},{"s":"p6","t":"plasma","x":190,"y":0.0125},{"s":"p6","t":"plasma","x":196,"y":0.0085},{"s":"p6","t":"plasma","x":202,"y":0.0055},{"s":"p6","t":"plasma","x":210,"y":0.0032},{"s":"p6","t":"plasma","x":220,"y":0.0017},{"s":"p6","t":"plasma","x":240,"y":0.0006},{"s":"p6","t":"plasma","x":270,"y":0.0002},{"s":"p6","t":"plasma","x":365,"y":0},
    {"s":"p7","t":"plasma","x":0,"y":0},{"s":"p7","t":"plasma","x":60,"y":0.0001},{"s":"p7","t":"plasma","x":80,"y":0.0005},{"s":"p7","t":"plasma","x":100,"y":0.0013},{"s":"p7","t":"plasma","x":120,"y":0.0028},{"s":"p7","t":"plasma","x":130,"y":0.0042},{"s":"p7","t":"plasma","x":140,"y":0.0068},{"s":"p7","t":"plasma","x":145,"y":0.0092},{"s":"p7","t":"plasma","x":150,"y":0.012},{"s":"p7","t":"plasma","x":155,"y":0.0153},{"s":"p7","t":"plasma","x":160,"y":0.018},{"s":"p7","t":"plasma","x":165,"y":0.0205},{"s":"p7","t":"plasma","x":170,"y":0.022},{"s":"p7","t":"plasma","x":175,"y":0.0215},{"s":"p7","t":"plasma","x":180,"y":0.0195},{"s":"p7","t":"plasma","x":185,"y":0.016},{"s":"p7","t":"plasma","x":190,"y":0.0122},{"s":"p7","t":"plasma","x":196,"y":0.0085},{"s":"p7","t":"plasma","x":203,"y":0.0055},{"s":"p7","t":"plasma","x":212,"y":0.0031},{"s":"p7","t":"plasma","x":225,"y":0.0015},{"s":"p7","t":"plasma","x":245,"y":0.0006},{"s":"p7","t":"plasma","x":275,"y":0.0002},{"s":"p7","t":"plasma","x":365,"y":0},
    {"s":"p8","t":"plasma","x":0,"y":0},{"s":"p8","t":"plasma","x":60,"y":0},{"s":"p8","t":"plasma","x":80,"y":0.0002},{"s":"p8","t":"plasma","x":100,"y":0.0007},{"s":"p8","t":"plasma","x":120,"y":0.0017},{"s":"p8","t":"plasma","x":130,"y":0.0026},{"s":"p8","t":"plasma","x":140,"y":0.0044},{"s":"p8","t":"plasma","x":145,"y":0.006},{"s":"p8","t":"plasma","x":150,"y":0.0085},{"s":"p8","t":"plasma","x":155,"y":0.0125},{"s":"p8","t":"plasma","x":159,"y":0.0175},{"s":"p8","t":"plasma","x":163,"y":0.025},{"s":"p8","t":"plasma","x":166,"y":0.031},{"s":"p8","t":"plasma","x":168,"y":0.033},{"s":"p8","t":"plasma","x":171,"y":0.0305},{"s":"p8","t":"plasma","x":175,"y":0.0265},{"s":"p8","t":"plasma","x":180,"y":0.0205},{"s":"p8","t":"plasma","x":185,"y":0.014},{"s":"p8","t":"plasma","x":190,"y":0.0092},{"s":"p8","t":"plasma","x":196,"y":0.0056},{"s":"p8","t":"plasma","x":203,"y":0.0032},{"s":"p8","t":"plasma","x":212,"y":0.0016},{"s":"p8","t":"plasma","x":228,"y":0.0006},{"s":"p8","t":"plasma","x":255,"y":0.0002},{"s":"p8","t":"plasma","x":365,"y":0},
    {"s":"p9","t":"plasma","x":0,"y":0},{"s":"p9","t":"plasma","x":60,"y":0.0001},{"s":"p9","t":"plasma","x":80,"y":0.0003},{"s":"p9","t":"plasma","x":100,"y":0.0008},{"s":"p9","t":"plasma","x":120,"y":0.0019},{"s":"p9","t":"plasma","x":130,"y":0.0029},{"s":"p9","t":"plasma","x":140,"y":0.0048},{"s":"p9","t":"plasma","x":145,"y":0.0066},{"s":"p9","t":"plasma","x":150,"y":0.0092},{"s":"p9","t":"plasma","x":155,"y":0.013},{"s":"p9","t":"plasma","x":159,"y":0.0178},{"s":"p9","t":"plasma","x":163,"y":0.0238},{"s":"p9","t":"plasma","x":167,"y":0.029},{"s":"p9","t":"plasma","x":170,"y":0.0282},{"s":"p9","t":"plasma","x":174,"y":0.0255},{"s":"p9","t":"plasma","x":178,"y":0.0222},{"s":"p9","t":"plasma","x":183,"y":0.0172},{"s":"p9","t":"plasma","x":188,"y":0.0118},{"s":"p9","t":"plasma","x":193,"y":0.0078},{"s":"p9","t":"plasma","x":199,"y":0.0048},{"s":"p9","t":"plasma","x":206,"y":0.0028},{"s":"p9","t":"plasma","x":216,"y":0.0013},{"s":"p9","t":"plasma","x":232,"y":0.0005},{"s":"p9","t":"plasma","x":260,"y":0.0002},{"s":"p9","t":"plasma","x":365,"y":0},
    {"s":"p10","t":"plasma","x":0,"y":0},{"s":"p10","t":"plasma","x":60,"y":0.0001},{"s":"p10","t":"plasma","x":80,"y":0.0004},{"s":"p10","t":"plasma","x":100,"y":0.001},{"s":"p10","t":"plasma","x":120,"y":0.0021},{"s":"p10","t":"plasma","x":130,"y":0.0032},{"s":"p10","t":"plasma","x":140,"y":0.0052},{"s":"p10","t":"plasma","x":145,"y":0.007},{"s":"p10","t":"plasma","x":150,"y":0.0097},{"s":"p10","t":"plasma","x":155,"y":0.0134},{"s":"p10","t":"plasma","x":160,"y":0.018},{"s":"p10","t":"plasma","x":165,"y":0.0232},{"s":"p10","t":"plasma","x":170,"y":0.027},{"s":"p10","t":"plasma","x":174,"y":0.0262},{"s":"p10","t":"plasma","x":178,"y":0.024},{"s":"p10","t":"plasma","x":183,"y":0.0195},{"s":"p10","t":"plasma","x":188,"y":0.0142},{"s":"p10","t":"plasma","x":193,"y":0.0097},{"s":"p10","t":"plasma","x":199,"y":0.0063},{"s":"p10","t":"plasma","x":206,"y":0.0038},{"s":"p10","t":"plasma","x":215,"y":0.002},{"s":"p10","t":"plasma","x":232,"y":0.0008},{"s":"p10","t":"plasma","x":260,"y":0.0002},{"s":"p10","t":"plasma","x":365,"y":0},
    {"s":"p11","t":"plasma","x":0,"y":0},{"s":"p11","t":"plasma","x":60,"y":0.0001},{"s":"p11","t":"plasma","x":80,"y":0.0003},{"s":"p11","t":"plasma","x":100,"y":0.0009},{"s":"p11","t":"plasma","x":120,"y":0.002},{"s":"p11","t":"plasma","x":130,"y":0.0031},{"s":"p11","t":"plasma","x":140,"y":0.005},{"s":"p11","t":"plasma","x":145,"y":0.0068},{"s":"p11","t":"plasma","x":150,"y":0.0094},{"s":"p11","t":"plasma","x":155,"y":0.013},{"s":"p11","t":"plasma","x":160,"y":0.0178},{"s":"p11","t":"plasma","x":164,"y":0.0222},{"s":"p11","t":"plasma","x":168,"y":0.025},{"s":"p11","t":"plasma","x":172,"y":0.0243},{"s":"p11","t":"plasma","x":176,"y":0.0225},{"s":"p11","t":"plasma","x":181,"y":0.0185},{"s":"p11","t":"plasma","x":186,"y":0.0138},{"s":"p11","t":"plasma","x":191,"y":0.0095},{"s":"p11","t":"plasma","x":197,"y":0.0062},{"s":"p11","t":"plasma","x":204,"y":0.0037},{"s":"p11","t":"plasma","x":213,"y":0.0019},{"s":"p11","t":"plasma","x":230,"y":0.0008},{"s":"p11","t":"plasma","x":258,"y":0.0002},{"s":"p11","t":"plasma","x":365,"y":0}
  ]
},
"hconcat": [
  {
    "width": 259, "height": 275,
    "title": {"text": "A", "anchor": "start", "frame": "group", "dx": -51, "fontSize": 18.5, "fontWeight": "bold", "offset": 6.5, "color": "#000"},
    "layer": [
      {"data": {"name": "pairsA"}, "mark": {"type": "line", "color": "#bdbdbd", "strokeWidth": 0.9},
       "encoding": {
         "x": {"field": "g", "type": "nominal", "scale": {"type": "point", "padding": 0.53, "align": 0.57}, "axis": {"title": null, "labelAngle": 0, "labelFontSize": 17.5, "labelColor": "#111", "tickSize": 5, "labelPadding": 5, "domainColor": "#111", "domainWidth": 2}},
         "y": {"field": "v", "type": "quantitative", "scale": {"type": "pow", "exponent": 1.154, "domain": [-2.43, 40.49], "nice": false, "zero": false}, "axis": {"title": "cfDNA quantity (ng)", "titleFontSize": 17, "titlePadding": 9, "values": [0, 10, 20, 30, 40], "labelFontSize": 15, "tickSize": 4, "labelPadding": 1, "domainColor": "#666", "domainWidth": 1.2}},
         "detail": {"field": "id"}
       }},
      {"data": {"name": "boxA"}, "mark": {"type": "bar", "width": 63, "filled": false, "strokeWidth": 1.8},
       "encoding": {"x": {"field": "g", "type": "nominal"}, "y": {"field": "q1", "type": "quantitative"}, "y2": {"field": "q3"},
         "color": {"field": "g", "type": "nominal", "scale": {"domain": ["CSF", "plasma"], "range": ["#8e8ed0", "#e0939a"]}, "legend": null}}},
      {"data": {"name": "boxA"}, "mark": {"type": "tick", "size": 63, "thickness": 1.8},
       "encoding": {"x": {"field": "g", "type": "nominal"}, "y": {"field": "med", "type": "quantitative"},
         "color": {"field": "g", "type": "nominal", "legend": null}}},
      {"data": {"name": "pairsA"}, "mark": {"type": "circle", "size": 24, "opacity": 1},
       "encoding": {"x": {"field": "g", "type": "nominal"}, "y": {"field": "v", "type": "quantitative"},
         "color": {"field": "g", "type": "nominal", "legend": null}}},
      {"data": {"values": [{"label": "Wilcoxcon, p = 0.0025"}]}, "mark": {"type": "text", "dx": 62.85, "fontSize": 14.5, "baseline": "middle", "align": "center", "color": "#111"},
       "encoding": {"x": {"datum": "CSF", "type": "nominal"}, "y": {"datum": 40, "type": "quantitative"}, "text": {"field": "label"}}}
    ]
  },
  {
    "width": 279, "height": 275,
    "view": {"stroke": "#111", "strokeWidth": 1.5},
    "title": {"text": "B", "anchor": "start", "frame": "group", "dx": -62, "fontSize": 18.5, "fontWeight": "bold", "offset": 6.5, "color": "#000"},
    "resolve": {"axis": {"x": "independent"}},
    "layer": [
      {"data": {"name": "plasma"}, "mark": {"type": "line", "strokeWidth": 1.5, "clip": true},
       "encoding": {
         "x": {"field": "x", "type": "quantitative", "scale": {"domain": [-13.6, 364.9], "nice": false, "zero": false}, "axis": {"orient": "bottom", "title": null, "values": [0, 50, 100, 150, 200, 250, 300, 350], "labels": false, "tickSize": 6, "domain": false}},
         "y": {"field": "y", "type": "quantitative", "scale": {"domain": [-0.00176, 0.0467], "nice": false, "zero": false}, "axis": {"title": "Density", "titleFontSize": 17, "titlePadding": 8, "values": [0, 0.01, 0.02, 0.03, 0.04], "format": ".2f", "labelFontSize": 15, "tickSize": 4, "labelPadding": 1, "domain": false}},
         "detail": {"field": "s"},
         "color": {"field": "t", "type": "nominal", "scale": {"domain": ["CSF", "plasma"], "range": ["#9595d5", "#e89a9c"]},
           "legend": {"title": null, "orient": "none", "legendX": 6, "legendY": 7, "symbolType": "stroke", "symbolStrokeWidth": 4.5, "symbolSize": 441, "labelFontSize": 17, "labelOffset": 5, "rowPadding": 0, "padding": 0, "labelColor": "#111", "labelFont": "Liberation Sans"}}
       }},
      {"data": {"name": "csf"}, "mark": {"type": "line", "strokeWidth": 1.4, "clip": true},
       "encoding": {"x": {"field": "x", "type": "quantitative", "axis": {"orient": "bottom", "title": "fragment size (bp)", "titleFontSize": 17, "titleX": 157, "titlePadding": 1, "values": [50, 150, 250, 350], "labelFontSize": 13, "labelFlush": false, "labelOverlap": false, "tickSize": 6, "labelPadding": 0, "domain": false}},
         "y": {"field": "y", "type": "quantitative"}, "detail": {"field": "s"}, "color": {"field": "t", "type": "nominal"}}},
      {"data": {"values": [{"label": "160"}]}, "mark": {"type": "rule", "strokeDash": [4, 3], "color": "#555", "strokeWidth": 1.5},
       "encoding": {"x": {"datum": 160, "type": "quantitative", "axis": null}}},
      {"data": {"values": [{"label": "160"}]}, "mark": {"type": "text", "align": "left", "dx": 2, "baseline": "middle", "fontSize": 15, "color": "#222"},
       "encoding": {"x": {"datum": 160, "type": "quantitative", "axis": null}, "y": {"datum": 0.0423, "type": "quantitative"}, "text": {"field": "label"}}}
    ]
  },
  {
    "width": 269, "height": 275,
    "title": {"text": "C", "anchor": "start", "frame": "group", "dx": -70, "fontSize": 18.5, "fontWeight": "bold", "offset": 6.5, "color": "#000"},
    "layer": [
      {"data": {"name": "boxC"}, "mark": {"type": "rule", "strokeWidth": 2.5},
       "encoding": {
         "x": {"field": "g", "type": "nominal", "scale": {"type": "point", "padding": 0.494, "align": 0.611}, "axis": {"title": null, "labelAngle": 0, "labelFontSize": 17.5, "labelColor": "#111", "tickSize": 5, "labelPadding": 5, "domainColor": "#111", "domainWidth": 2}},
         "y": {"field": "lo", "type": "quantitative", "scale": {"domain": [11.37, 69.26], "nice": false, "zero": false}, "axis": {"title": ["propotion of fragments", "below 150 bp (%)"], "titleFontSize": 17, "titleLineHeight": 21, "titlePadding": 5, "values": [20, 30, 40, 50, 60], "labelFontSize": 15, "tickSize": 6, "labelPadding": 1, "domainColor": "#666", "domainWidth": 1.2}},
         "y2": {"field": "hi"},
         "color": {"field": "g", "type": "nominal", "scale": {"domain": ["CSF", "plasma"], "range": ["#8e8ed0", "#e0939a"]}, "legend": null}
       }},
      {"data": {"name": "boxC"}, "mark": {"type": "bar", "width": 68, "filled": false, "strokeWidth": 2.5},
       "encoding": {"x": {"field": "g", "type": "nominal"}, "y": {"field": "q1", "type": "quantitative"}, "y2": {"field": "q3"},
         "color": {"field": "g", "type": "nominal", "legend": null}}},
      {"data": {"name": "boxC"}, "mark": {"type": "tick", "size": 68, "thickness": 3.5},
       "encoding": {"x": {"field": "g", "type": "nominal"}, "y": {"field": "med", "type": "quantitative"},
         "color": {"field": "g", "type": "nominal", "legend": null}}},
      {"data": {"name": "pairsC"}, "mark": {"type": "line", "color": "#bdbdbd", "strokeWidth": 0.9},
       "encoding": {"x": {"field": "g", "type": "nominal"}, "y": {"field": "v", "type": "quantitative"}, "detail": {"field": "id"}}},
      {"data": {"name": "pairsC"}, "mark": {"type": "circle", "size": 12, "opacity": 1},
       "encoding": {"x": {"field": "g", "type": "nominal"}, "y": {"field": "v", "type": "quantitative"},
         "color": {"field": "g", "type": "nominal", "legend": null}}},
      {"data": {"values": [{"label": "Wilcoxcon, p = 3.7e-05"}]}, "mark": {"type": "text", "dx": 67.65, "fontSize": 14.5, "baseline": "middle", "align": "center", "color": "#111"},
       "encoding": {"x": {"datum": "CSF", "type": "nominal"}, "y": {"datum": 68.8, "type": "quantitative"}, "text": {"field": "label"}}}
    ]
  }
]
}
